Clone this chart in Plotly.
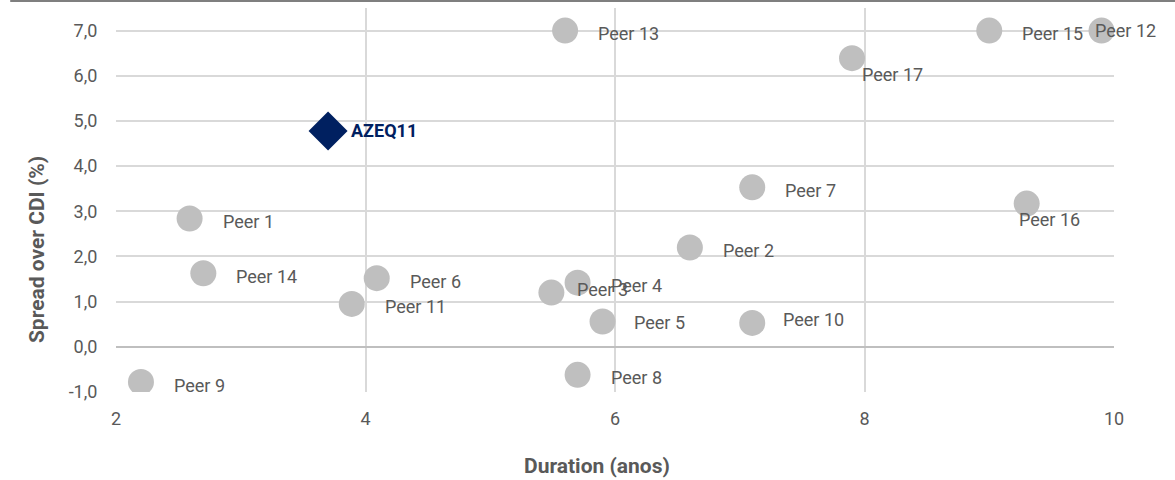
import plotly.graph_objects as go

# Data
peer_names = ["Peer 1", "Peer 2", "Peer 3", "Peer 4", "Peer 5", "Peer 6", "Peer 7", "Peer 8",
              "Peer 9", "Peer 10", "Peer 11", "Peer 12", "Peer 13", "Peer 14", "Peer 15",
              "Peer 16", "Peer 17"]
peer_duration = [2.59, 6.60, 5.49, 5.70, 5.90, 4.09, 7.10, 5.70,
                 2.20, 7.10, 3.89, 9.90, 5.60, 2.70, 9.00, 9.30, 7.90]
peer_spread = [2.84, 2.20, 1.20, 1.42, 0.56, 1.52, 3.53, -0.62,
               -0.78, 0.53, 0.95, 7.00, 7.00, 1.63, 7.00, 3.17, 6.39]

fund_name = ["AZEQ11"]
fund_duration = [3.70]
fund_spread = [4.78]

x_ticks = [2, 4, 6, 8, 10]
y_ticks = [-1, 0, 1, 2, 3, 4, 5, 6, 7]
y_tick_labels = ["-1,0", "0,0", "1,0", "2,0", "3,0", "4,0", "5,0", "6,0", "7,0"]

# label offsets (pixels): (xshift, yshift)
label_offsets = {
    "Peer 3": (24, 3),
    "Peer 9": (31, -3),
    "Peer 12": (-9, 0),
    "Peer 16": (-10, -16),
    "Peer 17": (8, -16),
    "Peer 10": (29, 3),
    "Peer 5": (29, -1),
}
default_offset = (31, -3)

GRAY_TXT = "#595959"
FONT = "Roboto"

fig = go.Figure()
fig.add_trace(go.Scatter(
    x=peer_duration, y=peer_spread, mode="markers",
    marker=dict(symbol="circle", size=26, color="#bfbfbf", line=dict(width=0)),
    showlegend=False, hoverinfo="text", text=peer_names))
fig.add_trace(go.Scatter(
    x=fund_duration, y=fund_spread, mode="markers",
    marker=dict(symbol="diamond", size=30, color="#002060", line=dict(width=0)),
    showlegend=False, hoverinfo="text", text=fund_name))

for n, xv, yv in zip(peer_names, peer_duration, peer_spread):
    xs, ys = label_offsets.get(n, default_offset)
    fig.add_annotation(x=xv, y=yv, text=n, showarrow=False, xanchor="left", yanchor="middle",
                       xshift=xs, yshift=ys, font=dict(family=FONT, size=18, color=GRAY_TXT))
for n, xv, yv in zip(fund_name, fund_duration, fund_spread):
    fig.add_annotation(x=xv, y=yv, text="<b>" + n + "</b>", showarrow=False, xanchor="left",
                       yanchor="middle", xshift=21, yshift=0,
                       font=dict(family=FONT, size=18, color="#002060"))

# axis titles
fig.add_annotation(xref="paper", yref="paper", x=0.482, y=-0.193, xanchor="center", yanchor="middle",
                   text="<b>Duration (anos)</b>", showarrow=False,
                   font=dict(family=FONT, size=21, color=GRAY_TXT))
fig.add_annotation(xref="paper", yref="paper", x=-0.079, y=0.37, xanchor="center", yanchor="middle",
                   text="<b>Spread over CDI (%)</b>", showarrow=False, textangle=-90,
                   font=dict(family=FONT, size=21, color=GRAY_TXT))

# top border line
fig.add_shape(type="line", xref="paper", yref="paper", x0=-0.106, x1=1.07, y0=1.018, y1=1.018,
              line=dict(color="#7f7f7f", width=2))

fig.update_layout(
    width=1175, height=480,
    margin=dict(l=116, r=61, t=8, b=88),
    paper_bgcolor="white", plot_bgcolor="white",
    font=dict(family=FONT, size=18, color=GRAY_TXT),
    xaxis=dict(range=[2, 10], tickvals=x_ticks, showgrid=True, gridcolor="#d9d9d9", gridwidth=2,
               zeroline=False, showline=False, ticks="outside", ticklen=10, tickcolor="rgba(0,0,0,0)",
               tickfont=dict(family=FONT, size=18, color=GRAY_TXT)),
    yaxis=dict(range=[-1, 7.5], tickvals=y_ticks, ticktext=y_tick_labels, showgrid=True,
               gridcolor="#d9d9d9", gridwidth=2, zeroline=True, zerolinecolor="#bfbfbf",
               zerolinewidth=2, showline=False, ticks="outside", ticklen=14, tickcolor="rgba(0,0,0,0)",
               tickfont=dict(family=FONT, size=18, color=GRAY_TXT)),
)

fig.write_html("out.html", config={"displayModeBar": False},
               post_script="document.body.style.margin='0';")
